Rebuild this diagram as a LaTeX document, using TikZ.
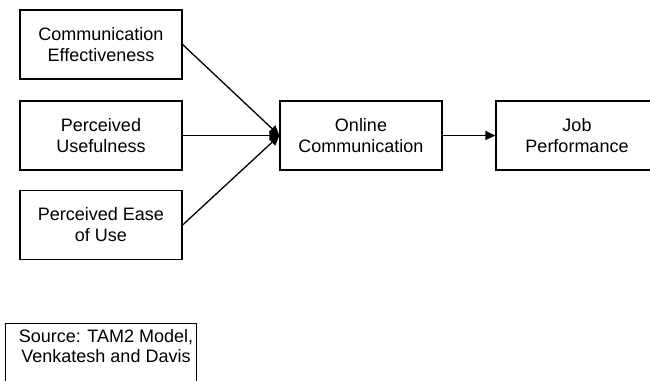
\documentclass[tikz,border=0pt]{standalone}
\usepackage{fontspec}
\setmainfont{Liberation Sans}
\usetikzlibrary{arrows.meta}
\begin{document}
\begin{tikzpicture}[x=1pt,y=-1pt,
  box/.style={draw=black, line width=1.2pt, rectangle, minimum width=162pt, minimum height=69pt, inner sep=0pt, align=center, font=\fontsize{18}{21}\selectfont},
  lbl/.style={inner sep=0pt, align=center, font=\fontsize{18}{20}\selectfont},
  conn/.style={line width=1.3pt, -{Triangle[length=10pt,width=9pt]}}]
\useasboundingbox (0,0) rectangle (650,380);
\begin{scope}
\clip (0,0) rectangle (650,380);
\node[box] (ce) at (101,44.5) {Communication\\Effectiveness};
\node[box] (pu) at (101,135.5) {Perceived\\Usefulness};
\node[box] (pe) at (101,225) {Perceived Ease\\of Use};
\node[box] (oc) at (361,135.5) {Online\\Communication};
\node[box] (jp) at (577,135.5) {Job\\Performance};
\node[box, minimum width=191pt, anchor=north west] (src) at (5,323) {};
\node[lbl] (srctxt) at (106,346) {Source: TAM2 Model,\\Venkatesh and Davis};
\draw[conn] (ce.east) -- (oc.west);
\draw[conn] (pu.east) -- (oc.west);
\draw[conn] (pe.east) -- (oc.west);
\draw[conn] (oc.east) -- (jp.west);
\end{scope}
\end{tikzpicture}
\end{document}
